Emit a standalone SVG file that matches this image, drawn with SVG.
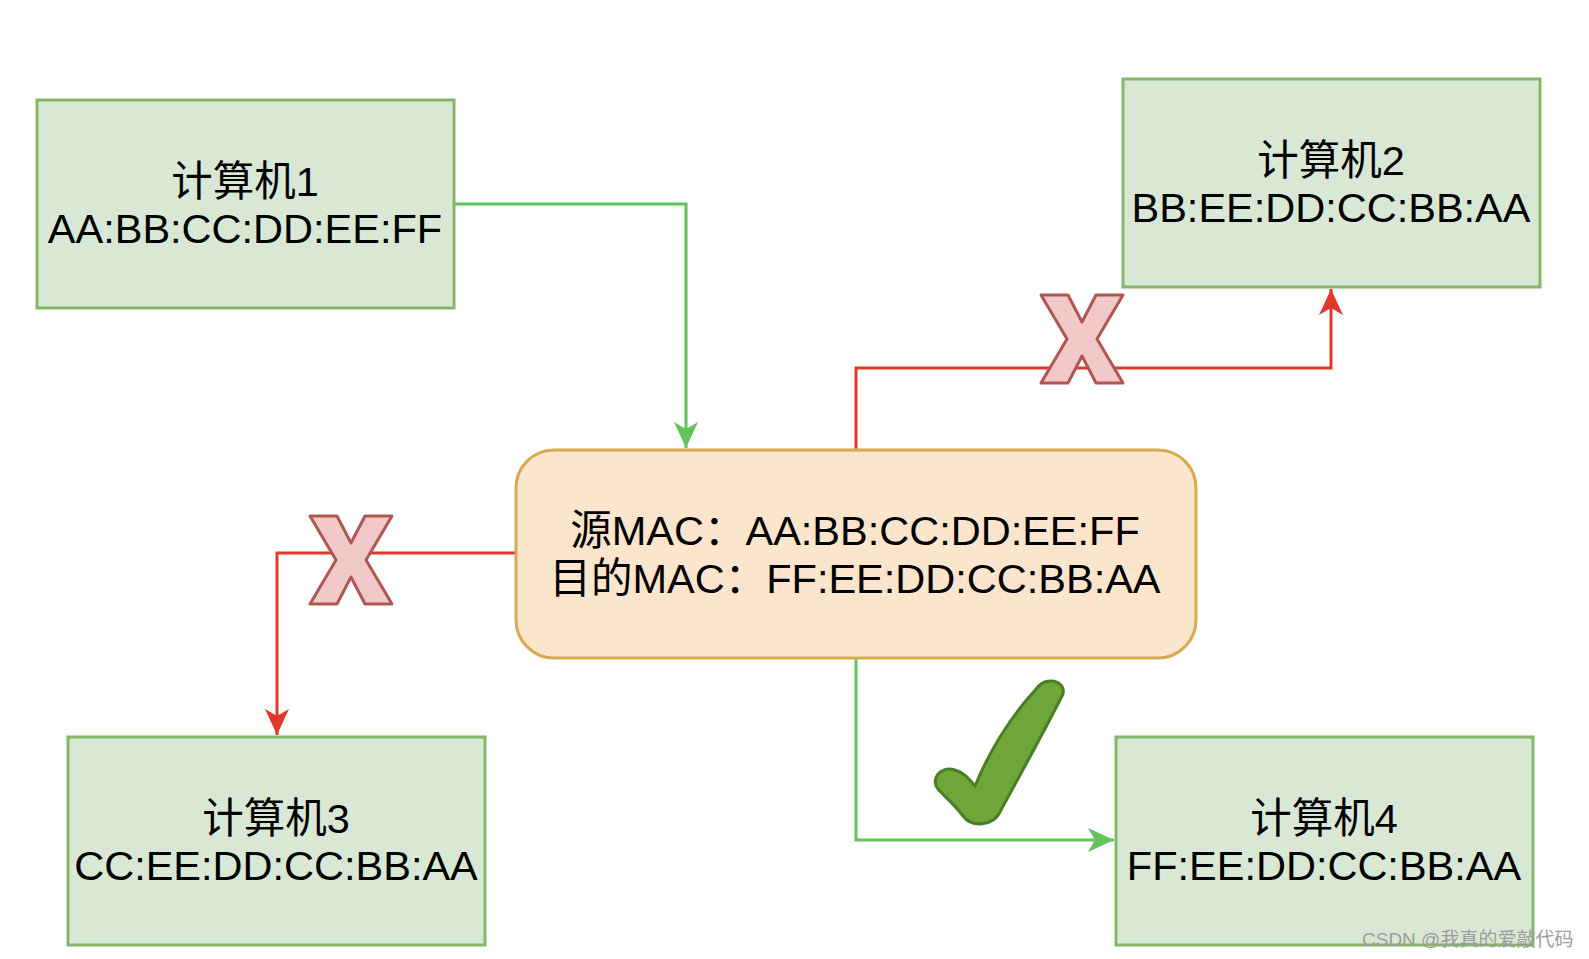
<svg xmlns="http://www.w3.org/2000/svg" width="1589" height="959" viewBox="0 0 1589 959">
<style>
.box{fill:#d9e8d5;stroke:#86b56a;stroke-width:3}
.ctr{fill:#fce5cd;stroke:#d6ab4e;stroke-width:3}
.t{font-family:"Liberation Sans","Noto Sans CJK SC",sans-serif;font-size:41.5px;fill:#000;text-anchor:middle}
.g{fill:none;stroke:#62c35a;stroke-width:3}
.r{fill:none;stroke:#e0392c;stroke-width:3}
.x{fill:#f1c9c8;stroke:#b05651;stroke-width:3;stroke-linejoin:round}
.wm{font-family:"Liberation Sans","Noto Sans CJK SC",sans-serif;font-size:19px;fill:#9c9c9c}
</style>
<defs>
<marker id="ag" viewBox="0 0 26 24" refX="26" refY="12" markerWidth="26" markerHeight="24" markerUnits="userSpaceOnUse" orient="auto"><path d="M0,0 L26,12 L0,24 L7,12 Z" fill="#62c35a"/></marker>
<marker id="ar" viewBox="0 0 26 24" refX="26" refY="12" markerWidth="26" markerHeight="24" markerUnits="userSpaceOnUse" orient="auto"><path d="M0,0 L26,12 L0,24 L7,12 Z" fill="#e0392c"/></marker>
</defs>
<rect width="1589" height="959" fill="#fff"/>
<g id="connectors">
<path class="g" d="M455,204 H686 V448" marker-end="url(#ag)"/>
<path class="r" d="M856,450 V368 H1331 V289" marker-end="url(#ar)"/>
<path class="r" d="M516,553 H277 V735" marker-end="url(#ar)"/>
<path class="g" d="M856,658 V840 H1114" marker-end="url(#ag)"/>
</g>
<g id="pc1"><rect class="box" x="37" y="100" width="417" height="208"/><text class="t" x="245" y="196">计算机1</text><text class="t" x="245" y="243">AA:BB:CC:DD:EE:FF</text></g>
<g id="pc2"><rect class="box" x="1123" y="79" width="417" height="208"/><text class="t" x="1331" y="175">计算机2</text><text class="t" x="1331" y="222">BB:EE:DD:CC:BB:AA</text></g>
<g id="pc3"><rect class="box" x="68" y="737" width="417" height="208"/><text class="t" x="276" y="833">计算机3</text><text class="t" x="276" y="880">CC:EE:DD:CC:BB:AA</text></g>
<g id="pc4"><rect class="box" x="1116" y="737" width="417" height="208"/><text class="t" x="1324" y="833">计算机4</text><text class="t" x="1324" y="880">FF:EE:DD:CC:BB:AA</text></g>
<g id="frame"><rect class="ctr" x="516" y="450" width="680" height="208" rx="38" ry="38"/><text class="t" x="855" y="545">源MAC：AA:BB:CC:DD:EE:FF</text><text class="t" x="855" y="593">目的MAC：FF:EE:DD:CC:BB:AA</text></g>
<g id="cross1"><polygon class="x" transform="translate(1082,339)" points="-41,-44 -14,-44 0,-17 14,-44 41,-44 15,0 41,44 14,44 0,17 -14,44 -41,44 -15,0"/></g>
<g id="cross2"><polygon class="x" transform="translate(351,560)" points="-41,-44 -14,-44 0,-17 14,-44 41,-44 15,0 41,44 14,44 0,17 -14,44 -41,44 -15,0"/></g>
<g id="check"><path d="M1037 688 C1045 676,1066 680,1063 694 C1045 730,1020 775,1000 812 C993 826,972 828,963 816 C955 805,945 797,938 789 C930 780,940 765,955 770 C965 773,970 780,975 786 C990 750,1012 715,1037 688 Z" fill="#6ea63a" stroke="#4a7d26" stroke-width="3" stroke-linejoin="round"/></g>
<text class="wm" x="1362" y="946">CSDN @我真的爱敲代码</text>
</svg>
